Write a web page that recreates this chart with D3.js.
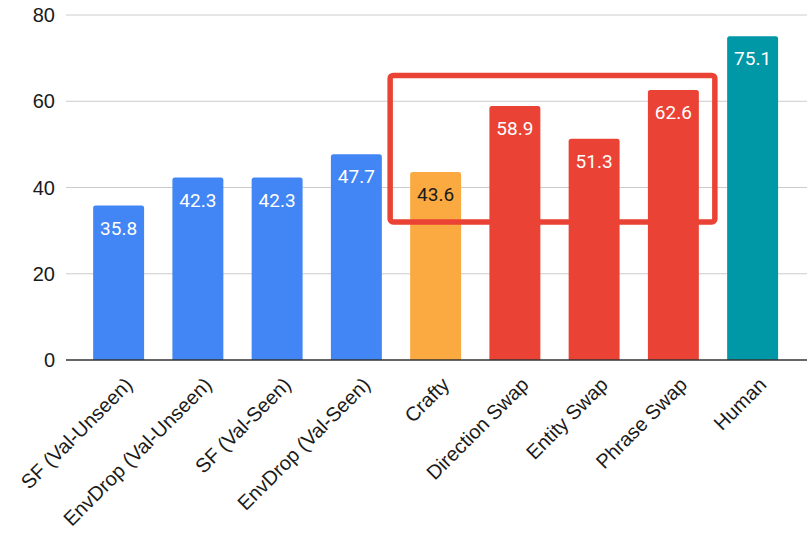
<!DOCTYPE html>
<html>
<head>
<meta charset="utf-8">
<script src="https://cdn.jsdelivr.net/npm/d3@7"></script>
<style>
  body { margin: 0; background: #fff; }
  svg { display: block; }
</style>
</head>
<body>
<svg width="807" height="533"></svg>
<script>
// chart values
const categories = ["SF (Val-Unseen)", "EnvDrop (Val-Unseen)", "SF (Val-Seen)", "EnvDrop (Val-Seen)",
                    "Crafty", "Direction Swap", "Entity Swap", "Phrase Swap", "Human"];
const values = [35.8, 42.3, 42.3, 47.7, 43.6, 58.9, 51.3, 62.6, 75.1];
const groups = ["base", "base", "base", "base", "crafty", "swap", "swap", "swap", "human"];
const yTicks = [0, 20, 40, 60, 80];
// highlighted range (red box) in data terms
const boxFrom = "Crafty", boxTo = "Phrase Swap", boxLow = 32, boxHigh = 66;

const colors = { base: "#4285f4", crafty: "#fbaa42", swap: "#ea4335", human: "#0097a7" };

const svg = d3.select("svg");

const x = d3.scaleBand()
  .domain(categories)
  .range([79, 792.25])
  .paddingInner(0.357)
  .paddingOuter(0.1785);

const y = d3.scaleLinear()
  .domain([0, 80])
  .range([360, 15]);

const gridLeft = 66, gridRight = 807;

// gridlines
svg.append("g").selectAll("line")
  .data(yTicks.filter(d => d > 0))
  .enter().append("line")
  .attr("x1", gridLeft).attr("x2", gridRight)
  .attr("y1", d => y(d)).attr("y2", d => y(d))
  .attr("stroke", "#cccccc").attr("stroke-width", 1);

// y tick labels
svg.append("g").selectAll("text")
  .data(yTicks)
  .enter().append("text")
  .attr("x", 55)
  .attr("y", d => y(d) + 7)
  .attr("text-anchor", "end")
  .style("font-family", "Liberation Sans, Arial, sans-serif")
  .style("font-size", "20px")
  .attr("fill", "#1a1a1a")
  .text(d => d);

// bars with small rounded tops
const r = 2.5;
svg.append("g").selectAll("path")
  .data(categories)
  .enter().append("path")
  .attr("fill", (d, i) => colors[groups[i]])
  .attr("d", (d, i) => {
    const x0 = x(d), w = x.bandwidth(), top = y(values[i]), bot = y(0);
    return `M${x0},${bot}V${top + r}Q${x0},${top} ${x0 + r},${top}H${x0 + w - r}Q${x0 + w},${top} ${x0 + w},${top + r}V${bot}Z`;
  });

// baseline
svg.append("line")
  .attr("x1", gridLeft).attr("x2", gridRight)
  .attr("y1", y(0)).attr("y2", y(0))
  .attr("stroke", "#333").attr("stroke-width", 1.5);

// value labels inside bars
svg.append("g").selectAll("text")
  .data(categories)
  .enter().append("text")
  .attr("x", d => x(d) + x.bandwidth() / 2)
  .attr("y", (d, i) => y(values[i]) + 29)
  .attr("text-anchor", "middle")
  .style("font-family", "Roboto, sans-serif")
  .style("font-size", "19px")
  .attr("fill", (d, i) => groups[i] === "crafty" ? "#1a1a1a" : "#fff")
  .text((d, i) => values[i].toFixed(1));

// rotated category labels
svg.append("g").selectAll("text")
  .data(categories)
  .enter().append("text")
  .attr("transform", d => `translate(${x(d) + x.bandwidth() / 2 + 15},${y(0) + 26}) rotate(-45)`)
  .attr("text-anchor", "end")
  .style("font-family", "Liberation Sans, Arial, sans-serif")
  .style("font-size", "20px")
  .attr("fill", "#1a1a1a")
  .text(d => d);

// red highlight box
const bx0 = x(boxFrom) - 20, bx1 = x(boxTo) + x.bandwidth() + 16;
svg.append("rect")
  .attr("x", bx0).attr("y", y(boxHigh))
  .attr("width", bx1 - bx0).attr("height", y(boxLow) - y(boxHigh))
  .attr("rx", 3)
  .attr("fill", "none")
  .attr("stroke", "#ea4335")
  .attr("stroke-width", 5.5);
</script>
</body>
</html>
